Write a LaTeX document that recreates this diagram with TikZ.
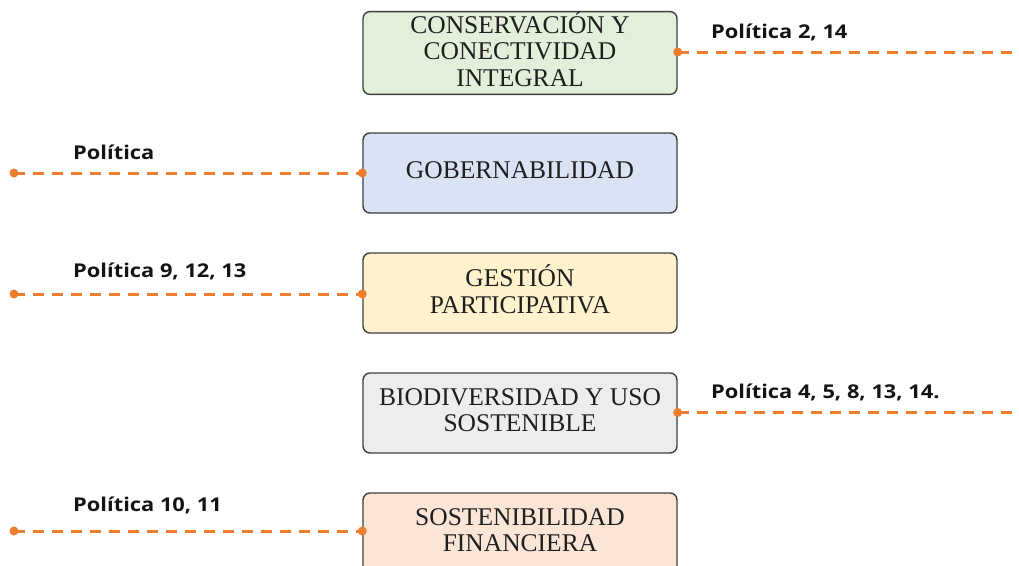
\documentclass[tikz,border=0pt]{standalone}
\usepackage{fontspec}
\setmainfont{Liberation Serif}
\newfontfamily\labfont{Open Sans}[FakeStretch=1.15]
\newcommand{\bxt}[1]{\raisebox{4.5pt}{\begin{tabular}{@{}c@{}}#1\end{tabular}}}
\definecolor{org}{HTML}{ED7D31}
\definecolor{boxline}{HTML}{3F3F3F}
\definecolor{fgreen}{HTML}{E2EFDA}
\definecolor{fblue}{HTML}{DAE3F3}
\definecolor{fyellow}{HTML}{FFF2CC}
\definecolor{fgray}{HTML}{EDEDED}
\definecolor{fpeach}{HTML}{FBE5D6}
\begin{document}
\begin{tikzpicture}[x=1pt,y=-1pt,
  box/.style={draw=boxline, line width=1.4pt, rounded corners=7pt, minimum width=314pt, minimum height=80pt, inner sep=0pt, text=black!88, font=\fontsize{25.5}{26.5}\selectfont},
  conn/.style={draw=org, line width=3pt, dash pattern=on 11pt off 8pt},
  dotc/.style={circle, fill=org, inner sep=0pt, minimum size=9pt},
  lab/.style={anchor=base west, inner sep=0pt, text=black!92, font=\labfont\bfseries\fontsize{19}{22}\selectfont}]
\path[use as bounding box, fill=white] (0,0) rectangle (1019,565);
\clip (0,0) rectangle (1019,565);

\node[box, fill=fgreen]  (b1) at (520,53)  {\bxt{CONSERVACIÓN Y\\CONECTIVIDAD\\INTEGRAL}};
\node[box, fill=fblue]   (b2) at (520,173) {\bxt{GOBERNABILIDAD}};
\node[box, fill=fyellow] (b3) at (520,293) {\bxt{GESTIÓN\\PARTICIPATIVA}};
\node[box, fill=fgray]   (b4) at (520,413) {\bxt{BIODIVERSIDAD Y USO\\SOSTENIBLE}};
\node[box, fill=fpeach]  (b5) at (520,533) {\bxt{SOSTENIBILIDAD\\FINANCIERA}};

\coordinate (r1) at (1019,52);
\coordinate (l2) at (14,173);
\coordinate (l3) at (14,294);
\coordinate (r4) at (1019,412.5);
\coordinate (l5) at (14,531);

\draw[conn] (b1.east |- r1) -- (r1);
\draw[conn] (l2) -- (b2.west |- l2);
\draw[conn] (l3) -- (b3.west |- l3);
\draw[conn] (b4.east |- r4) -- (r4);
\draw[conn] (l5) -- (b5.west |- l5);

\node[dotc] (d1) at (b1.east |- r1) {};
\node[dotc] (d2a) at (l2) {};
\node[dotc] (d2b) at (b2.west |- l2) {};
\node[dotc] (d3a) at (l3) {};
\node[dotc] (d3b) at (b3.west |- l3) {};
\node[dotc] (d4) at (b4.east |- r4) {};
\node[dotc] (d5a) at (l5) {};
\node[dotc] (d5b) at (b5.west |- l5) {};

\node[lab] (t1) at (711,38)  {Política 2, 14};
\node[lab] (t2) at (73,159)  {Política};
\node[lab] (t3) at (73,277.5) {Política 9, 12, 13};
\node[lab] (t4) at (711,398) {Política 4, 5, 8, 13, 14.};
\node[lab] (t5) at (73,511)  {Política 10, 11};
\end{tikzpicture}
\end{document}
